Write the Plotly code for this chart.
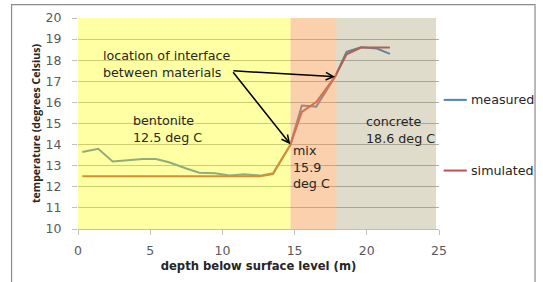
import plotly.graph_objects as go

# data
depth = [0.3, 1.4, 2.4, 3.4, 4.5, 5.4, 6.3, 7.5, 8.4, 9.5, 10.5, 11.5, 12.6, 13.5,
         14.7, 15.5, 16.5, 17.8, 18.6, 19.6, 20.7, 21.6]
measured = [13.65, 13.8, 13.2, 13.25, 13.32, 13.32, 13.16, 12.87, 12.67, 12.64, 12.54, 12.6,
            12.53, 12.64, 13.98, 15.85, 15.8, 17.22, 18.4, 18.61, 18.55, 18.3]
simulated = [12.5, 12.5, 12.5, 12.5, 12.5, 12.5, 12.5, 12.5, 12.5, 12.5, 12.5, 12.5,
             12.5, 12.6, 13.98, 15.55, 16.02, 17.22, 18.28, 18.6, 18.6, 18.6]
zones = [(0, 14.72, "#FFFF00", 0.36), (14.72, 17.89, "#F79646", 0.45), (17.89, 24.8, "#948A54", 0.3)]
x_ticks = [0, 5, 10, 15, 20, 25]

BLUE = "#4F81BD"
RED = "#C0504D"
FONT = "DejaVu Sans"

fig = go.Figure()
fig.add_trace(go.Scatter(x=depth, y=measured, mode="lines", name="measured",
                         line=dict(color=BLUE, width=2), showlegend=False))
fig.add_trace(go.Scatter(x=depth, y=simulated, mode="lines", name="simulated",
                         line=dict(color=RED, width=2), showlegend=False))

shapes = []
for x0, x1, c, op in zones:
    shapes.append(dict(type="rect", xref="x", yref="y", x0=x0, x1=x1, y0=10, y1=20,
                       fillcolor=c, opacity=op, line=dict(width=0), layer="above"))
# outer frame
shapes.append(dict(type="rect", xref="paper", yref="paper", x0=-0.184, x1=1.266, y0=-0.3, y1=1.063,
                   line=dict(color="#8C8C8C", width=1.2), fillcolor="rgba(0,0,0,0)", layer="below"))
# legend samples
shapes.append(dict(type="line", xref="paper", yref="paper", x0=1.013, x1=1.077, y0=0.612, y1=0.612,
                   line=dict(color=BLUE, width=2)))
shapes.append(dict(type="line", xref="paper", yref="paper", x0=1.013, x1=1.077, y0=0.277, y1=0.277,
                   line=dict(color=RED, width=2)))

txt = dict(family=FONT, size=12.7, color="#262626")
annotations = [
    dict(x=1.6, y=17.82, xref="x", yref="y", text="location of interface<br>between materials",
         showarrow=False, xanchor="left", yanchor="middle", align="left", font=txt),
    dict(x=3.7, y=14.72, xref="x", yref="y", text="bentonite<br>12.5 deg C",
         showarrow=False, xanchor="left", yanchor="middle", align="left", font=txt),
    dict(x=14.78, y=12.96, xref="x", yref="y", text="mix<br>15.9<br>deg C",
         showarrow=False, xanchor="left", yanchor="middle", align="left", font=txt),
    dict(x=19.8, y=14.67, xref="x", yref="y", text="concrete<br>18.6 deg C",
         showarrow=False, xanchor="left", yanchor="middle", align="left", font=txt),
    dict(x=17.8, y=17.22, ax=10.66, ay=17.5, xref="x", yref="y", axref="x", ayref="y",
         text="", showarrow=True, arrowhead=5, arrowsize=1, arrowwidth=1.5, arrowcolor="#000000"),
    dict(x=14.7, y=14.02, ax=10.66, ay=17.5, xref="x", yref="y", axref="x", ayref="y",
         text="", showarrow=True, arrowhead=5, arrowsize=1, arrowwidth=1.5, arrowcolor="#000000"),
    dict(x=1.082, y=0.612, xref="paper", yref="paper", text="measured", showarrow=False,
         xanchor="left", yanchor="middle", font=txt),
    dict(x=1.082, y=0.277, xref="paper", yref="paper", text="simulated", showarrow=False,
         xanchor="left", yanchor="middle", font=txt),
]

fig.update_layout(
    width=543, height=282,
    margin=dict(l=78, r=104, t=18, b=53),
    paper_bgcolor="white", plot_bgcolor="white",
    shapes=shapes, annotations=annotations,
    font=dict(family=FONT, color="#595959"),
)
fig.update_xaxes(range=[0, 25], tickvals=x_ticks, showgrid=False, zeroline=False, automargin=False,
                 showline=True, linecolor="#BFBFBF", linewidth=1, ticks="outside", ticklen=5,
                 tickcolor="#BFBFBF", ticklabelstandoff=5, tickfont=dict(size=12.5, color="#595959"),
                 title=dict(text="<b>depth below surface level (m)</b>", standoff=4,
                            font=dict(family=FONT, size=11.6, color="#262626")))
fig.update_yaxes(range=[10, 20], dtick=1, showgrid=True, gridcolor="#B0B0B0", gridwidth=1,
                 zeroline=False, showline=False, ticks="outside", ticklen=5, tickcolor="#BFBFBF",
                 automargin=False, ticklabelstandoff=8, tickfont=dict(size=12.5, color="#595959"),
                 title=dict(text="<b>temperature (degrees Celsius)</b>", standoff=2,
                            font=dict(family="Open Sans", size=10.6, color="#262626")))

fig.write_html("out.html", config={"displayModeBar": False},
               post_script="document.body.style.margin='0px';")
